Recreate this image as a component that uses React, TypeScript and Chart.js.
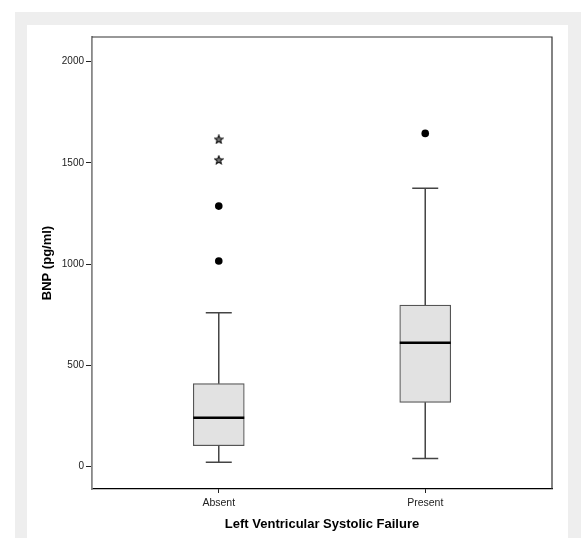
import React, { useEffect, useRef } from 'react';
import { Chart, registerables } from 'chart.js';
Chart.register(...registerables);

const categories = ['Absent', 'Present'];
const lowerWhisker = [22, 41];
const q1 = [104, 318];
const median = [242, 612];
const q3 = [410, 798];
const upperWhisker = [760, 1375];
const circleOutliers = [[1016, 1287], [1646]];
const starOutliers = [[1515, 1617], []];
const yTicks = [0, 500, 1000, 1500, 2000];
const yMin = -110;
const yMax = 2122;
const xTitle = 'Left Ventricular Systolic Failure';
const yTitle = 'BNP (pg/ml)';

function makeStar(): HTMLCanvasElement {
  const c = document.createElement('canvas');
  c.width = 10;
  c.height = 10;
  const g = c.getContext('2d')!;
  g.strokeStyle = '#111';
  g.fillStyle = '#777';
  g.lineWidth = 1.1;
  g.beginPath();
  const cx = 5, cy = 5.3, R = 4.3, r = 1.9;
  for (let i = 0; i < 10; i++) {
    const ang = -Math.PI / 2 + (i * Math.PI) / 5;
    const rad = i % 2 === 0 ? R : r;
    const px = cx + rad * Math.cos(ang);
    const py = cy + rad * Math.sin(ang);
    if (i === 0) g.moveTo(px, py); else g.lineTo(px, py);
  }
  g.closePath();
  g.fill();
  g.stroke();
  return c;
}

const boxPlugin = {
  id: 'boxExtras',
  afterDatasetsDraw(chart: any) {
    const { ctx, scales, chartArea } = chart;
    const xs = scales.x, ys = scales.y;
    ctx.save();
    categories.forEach((_, i) => {
      const cx = xs.getPixelForValue(i + 1);
      const capHalf = 13;
      const boxHalf = 25.5;
      ctx.strokeStyle = '#444';
      ctx.lineWidth = 1.5;
      ctx.beginPath();
      ctx.moveTo(cx, ys.getPixelForValue(q3[i]));
      ctx.lineTo(cx, ys.getPixelForValue(upperWhisker[i]));
      ctx.moveTo(cx, ys.getPixelForValue(q1[i]));
      ctx.lineTo(cx, ys.getPixelForValue(lowerWhisker[i]));
      const yu = ys.getPixelForValue(upperWhisker[i]);
      const yl = ys.getPixelForValue(lowerWhisker[i]);
      ctx.moveTo(cx - capHalf, yu);
      ctx.lineTo(cx + capHalf, yu);
      ctx.moveTo(cx - capHalf, yl);
      ctx.lineTo(cx + capHalf, yl);
      ctx.stroke();
      ctx.strokeStyle = '#000';
      ctx.lineWidth = 2.5;
      ctx.beginPath();
      const ym = ys.getPixelForValue(median[i]);
      ctx.moveTo(cx - boxHalf, ym);
      ctx.lineTo(cx + boxHalf, ym);
      ctx.stroke();
    });
    ctx.strokeStyle = '#333';
    ctx.lineWidth = 1.2;
    ctx.beginPath();
    ctx.moveTo(chartArea.left, chartArea.top);
    ctx.lineTo(chartArea.right, chartArea.top);
    ctx.lineTo(chartArea.right, chartArea.bottom);
    ctx.stroke();
    ctx.restore();
  },
};

export default function App() {
  const ref = useRef<HTMLCanvasElement>(null);
  useEffect(() => {
    const star = makeStar();
    const boxData = categories.map((_, i) => ({ x: i + 1, y: [q1[i], q3[i]] }));
    const circles: any[] = [];
    circleOutliers.forEach((arr, i) => arr.forEach((v) => circles.push({ x: i + 1, y: v })));
    const stars: any[] = [];
    starOutliers.forEach((arr, i) => arr.forEach((v) => stars.push({ x: i + 1, y: v })));
    const chart = new Chart(ref.current!, {
      type: 'bar',
      data: {
        datasets: [
          {
            data: boxData as any,
            backgroundColor: '#e2e2e2',
            borderColor: '#555',
            borderWidth: 1.2,
            barThickness: 51,
            borderSkipped: false,
          } as any,
          {
            type: 'scatter',
            data: circles,
            pointStyle: 'circle',
            pointRadius: 3.8,
            backgroundColor: '#000',
            borderColor: '#000',
            borderWidth: 0,
          } as any,
          {
            type: 'scatter',
            data: stars,
            pointStyle: star,
            pointRadius: 5,
          } as any,
        ],
      },
      options: {
        responsive: false,
        maintainAspectRatio: false,
        animation: false,
        events: [],
        layout: { padding: { left: 0, top: 12, right: 16, bottom: 0 } },
        plugins: { legend: { display: false }, tooltip: { enabled: false } },
        scales: {
          x: {
            type: 'linear',
            min: 0.386,
            max: 2.614,
            offset: false,
            afterFit: (s: any) => { s.height = 49; },
            afterBuildTicks: (s: any) => { s.ticks = categories.map((_, i) => ({ value: i + 1 })); },
            ticks: {
              callback: (v: any) => categories[Math.round(Number(v)) - 1] ?? '',
              font: { family: 'Arial, "Liberation Sans", sans-serif', size: 10.5 },
              color: '#222',
              padding: 4,
              maxRotation: 0,
              autoSkip: false,
            },
            grid: { offset: false, drawOnChartArea: false, drawTicks: true, tickLength: 4, tickColor: '#222' },
            border: { display: true, color: '#000', width: 1.2 },
            title: {
              display: true,
              text: xTitle,
              font: { family: 'Arial, "Liberation Sans", sans-serif', size: 13, weight: 'bold' },
              color: '#000',
              padding: { top: 0, bottom: 6 },
            },
          },
          y: {
            type: 'linear',
            min: yMin,
            max: yMax,
            afterFit: (s: any) => { s.width = 65; },
            afterBuildTicks: (s: any) => { s.ticks = yTicks.map((v) => ({ value: v })); },
            ticks: {
              font: { family: 'Arial, "Liberation Sans", sans-serif', size: 10 },
              color: '#222',
              padding: 2,
              callback: (v: any) => String(v),
            },
            grid: { drawOnChartArea: false, drawTicks: true, tickLength: 6, tickColor: '#222' },
            border: { display: true, color: '#888', width: 1.8 },
            title: {
              display: true,
              text: yTitle,
              font: { family: 'Arial, "Liberation Sans", sans-serif', size: 13, weight: 'bold' },
              color: '#000',
              padding: { top: 13, bottom: 0 },
            },
          },
        },
      },
      plugins: [boxPlugin],
    });
    return () => chart.destroy();
  }, []);
  return (
    <div style={{ position: 'absolute', left: 15, top: 12, width: 566, height: 526, background: '#eeeeee', overflow: 'hidden' }}>
      <div style={{ position: 'absolute', left: 12, top: 13, width: 541, height: 513, background: '#ffffff' }}>
        <canvas ref={ref} width={541} height={513} style={{ display: 'block' }} />
      </div>
    </div>
  );
}
